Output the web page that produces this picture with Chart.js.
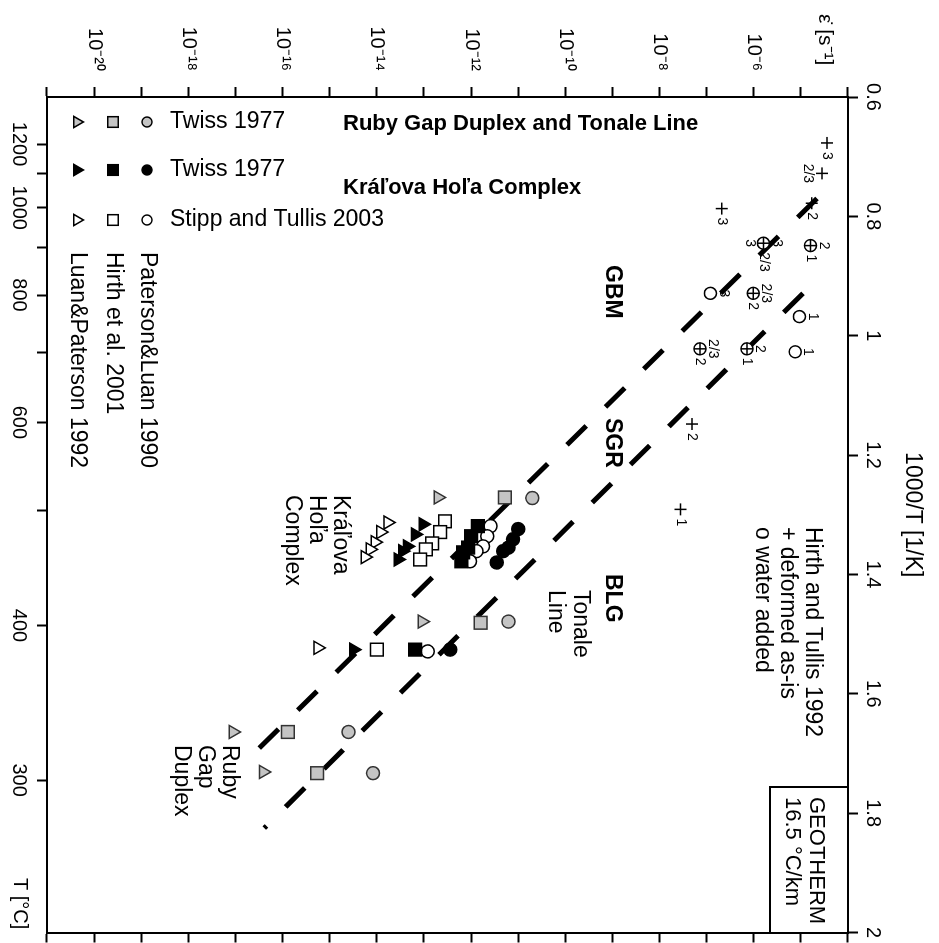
<!DOCTYPE html>
<html lang="en">
<head>
<meta charset="UTF-8">
<title>Strain rate vs 1000/T</title>
<script src="https://cdn.jsdelivr.net/npm/chart.js@4.4.0/dist/chart.umd.min.js"></script>
<style>
  body { margin: 0; background: #fff; overflow: hidden; }
  /* the figure is printed turned a quarter turn clockwise */
  #wrap { position: absolute; left: 0; top: 0; width: 943px; height: 939px;
          transform-origin: 0 0; transform: translateX(939px) rotate(90deg); }
</style>
</head>
<body>
<div id="wrap"><canvas id="chart" width="943" height="939"></canvas></div>
<script>
// axes
const invTTicks = [0.6, 0.8, 1, 1.2, 1.4, 1.6, 1.8, 2];
const tempTicks = [1200, 1100, 1000, 900, 800, 700, 600, 500, 400, 300];
const tempLabels = [1200, 1000, 800, 600, 400, 300];
const rateTickExp = [-21, -20, -19, -18, -17, -16, -15, -14, -13, -12, -11, -10, -9, -8, -7, -6, -5, -4];
const rateLabelExp = [-20, -18, -16, -14, -12, -10, -8, -6];

// Kráľova Hoľa Complex, Twiss 1977 (filled)
const khTriT = [1.316, 1.333, 1.353, 1.361, 1.375, 1.526];
const khTriRate = [9.5e-14, 6.5e-14, 4.4e-14, 3.5e-14, 2.8e-14, 3.2e-15];
const khSqT = [1.319, 1.336, 1.355, 1.363, 1.378, 1.526];
const khSqRate = [1.4e-12, 1.0e-12, 8.7e-13, 6.8e-13, 6.2e-13, 6.5e-14];
const khCirT = [1.324, 1.341, 1.355, 1.361, 1.380, 1.526];
const khCirRate = [1.0e-11, 7.8e-12, 6.2e-12, 4.8e-12, 3.5e-12, 3.6e-13];

// Stipp and Tullis 2003 (open)
const stTriT = [1.313, 1.329, 1.346, 1.358, 1.371, 1.523];
const stTriRate = [1.7e-14, 1.2e-14, 9.1e-15, 7.2e-15, 5.6e-15, 5.6e-16];
const stSqT = [1.311, 1.329, 1.348, 1.358, 1.375, 1.526];
const stSqRate = [2.8e-13, 2.2e-13, 1.5e-13, 1.1e-13, 8.3e-14, 1.0e-14];
const stCirT = [1.319, 1.336, 1.353, 1.361, 1.378, 1.529];
const stCirRate = [2.6e-12, 2.2e-12, 1.8e-12, 1.3e-12, 9.5e-13, 1.2e-13];

// Ruby Gap Duplex and Tonale Line, Twiss 1977 (grey)
const rgTriT = [1.271, 1.479, 1.664, 1.731];
const rgTriRate = [2.0e-13, 9.1e-14, 8.9e-18, 3.9e-17];
const rgSqT = [1.271, 1.481, 1.664, 1.733];
const rgSqRate = [5.2e-12, 1.6e-12, 1.3e-16, 5.4e-16];
const rgCirT = [1.272, 1.479, 1.664, 1.733];
const rgCirRate = [2.0e-11, 6.2e-12, 2.5e-15, 8.3e-15];

// Hirth and Tullis 1992 experiments, numbers = regime
const htPlusT = [0.677, 0.728, 0.778, 0.787, 1.148, 1.291];
const htPlusRate = [3.6e-5, 2.8e-5, 1.7e-5, 2.1e-7, 4.9e-8, 2.8e-8];
const htPlusNote = ['3', '2/3', '2', '3', '2', '1'];
const htBothT = [0.849, 0.845, 0.929, 1.022, 1.022];
const htBothRate = [1.6e-5, 1.6e-6, 9.8e-7, 7.2e-7, 7.2e-8];
const htBothNoteTop = ['2', '3', '2/3', '2', '2/3'];
const htBothNoteSide = ['1', '2/3', '2', '1', '2'];
const htWetT = [0.929, 0.968, 1.027];
const htWetRate = [1.2e-7, 9.3e-6, 7.6e-6];
const htWetNote = ['3', '1', '1'];

// regime boundaries
const gbmSgrT = [1.691, 0.748];
const gbmSgrRate = [3.2e-17, 4.2e-5];
const sgrBlgT = [1.825, 0.909];
const sgrBlgRate = [4.1e-17, 2.0e-5];

const FONT = '"Liberation Sans", Arial, sans-serif';
const H = 939;
const SUP = {'-': '⁻', '0': '⁰', '1': '¹', '2': '²', '3': '³', '4': '⁴', '5': '⁵', '6': '⁶', '7': '⁷', '8': '⁸', '9': '⁹'};

function pts(xs, ys) { return xs.map((x, i) => ({x: x, y: ys[i]})); }

function marks(xs, ys, style, r, fill, stroke) {
    return { data: pts(xs, ys), pointStyle: style, pointRadius: r, pointHoverRadius: r,
             backgroundColor: fill, borderColor: stroke, borderWidth: 1.5, showLine: false };
}

// text reading top to bottom on the page (page coords X right, Y down)
function vText(ctx, s, X, Y, font, align) {
    ctx.font = font; ctx.textAlign = align || 'left'; ctx.textBaseline = 'middle';
    ctx.fillText(s, Y, H - X);
}
// text reading left to right on the page
function hText(ctx, s, X, Y, font) {
    ctx.save();
    ctx.translate(Y, H - X);
    ctx.rotate(-Math.PI / 2);
    ctx.font = font; ctx.textAlign = 'left'; ctx.textBaseline = 'middle';
    ctx.fillText(s, 0, 0);
    ctx.restore();
}
function legendMark(ctx, style, r, fill, X, Y) {
    ctx.fillStyle = fill; ctx.strokeStyle = '#000'; ctx.lineWidth = 1.5;
    Chart.helpers.drawPoint(ctx, {pointStyle: style, radius: r, rotation: 0, borderWidth: 1.5}, Y, H - X);
}

const notes = {
    id: 'notes',
    afterDraw(chart) {
        const ctx = chart.ctx;
        const xs = chart.scales.x, ys = chart.scales.y;
        const ca = chart.chartArea;
        const reg = '23px ' + FONT, bold = 'bold 23px ' + FONT;
        ctx.save();
        ctx.fillStyle = '#000';

        vText(ctx, 'ε̇ [s⁻¹]', 825, 14, '21px ' + FONT);
        vText(ctx, 'T [°C]', 20, 878, '20px ' + FONT);

        // regimes
        vText(ctx, 'GBM', 612, 265, bold);
        vText(ctx, 'SGR', 612, 418, bold);
        vText(ctx, 'BLG', 612, 574, bold);

        // localities
        vText(ctx, 'Tonale', 580, 590, reg);
        vText(ctx, 'Line', 555, 590, reg);
        vText(ctx, 'Kráľova', 340, 495, reg);
        vText(ctx, 'Hoľa', 316, 495, reg);
        vText(ctx, 'Complex', 292, 495, reg);
        vText(ctx, 'Ruby', 229, 745, reg);
        vText(ctx, 'Gap', 205, 745, reg);
        vText(ctx, 'Duplex', 181, 745, reg);

        // flow laws
        vText(ctx, 'Paterson&Luan 1990', 147, 252, reg);
        vText(ctx, 'Hirth et al. 2001', 113, 252, reg);
        vText(ctx, 'Luan&Paterson 1992', 77, 252, reg);

        // Hirth and Tullis key
        vText(ctx, 'Hirth and Tullis 1992', 812, 527, reg);
        vText(ctx, '+ deformed as-is', 787, 527, reg);
        vText(ctx, 'o water added', 762, 527, reg);

        // geotherm box
        ctx.strokeStyle = '#000'; ctx.lineWidth = 2;
        ctx.beginPath();
        ctx.moveTo(787, ca.top); ctx.lineTo(787, H - 770); ctx.lineTo(ca.right, H - 770);
        ctx.stroke();
        vText(ctx, 'GEOTHERM', 816, 797, '22px ' + FONT);
        vText(ctx, '16.5 °C/km', 792, 797, '22px ' + FONT);

        // legend
        const rows = [
            {Y: 122, fill: '#c4c4c4', text: 'Twiss 1977'},
            {Y: 170, fill: '#000', text: 'Twiss 1977'},
            {Y: 220, fill: '#fff', text: 'Stipp and Tullis 2003'}
        ];
        rows.forEach(rw => {
            legendMark(ctx, 'triangle', 6.5, rw.fill, 77, rw.Y);
            legendMark(ctx, 'rect', 7.5, rw.fill, 113, rw.Y);
            legendMark(ctx, 'circle', 5, rw.fill, 147, rw.Y);
            ctx.fillStyle = '#000';
            hText(ctx, rw.text, 170, rw.Y, reg);
        });
        hText(ctx, 'Ruby Gap Duplex and Tonale Line', 343, 124, 'bold 22px ' + FONT);
        hText(ctx, 'Kráľova Hoľa Complex', 343, 188, 'bold 22px ' + FONT);

        // experiment numbers
        const small = '14px ' + FONT;
        ctx.font = small; ctx.textBaseline = 'middle';
        function note(s, t, r, where) {
            const px = xs.getPixelForValue(t), py = ys.getPixelForValue(r);
            if (where === 'side') { ctx.textAlign = 'left'; ctx.fillText(s, px + 9, py); }
            if (where === 'top') { ctx.textAlign = 'center'; ctx.fillText(s, px, py - 13); }
            if (where === 'under') { ctx.textAlign = 'center'; ctx.fillText(s, px, py + 14); }
        }
        htPlusNote.forEach((s, i) => note(s, htPlusT[i], htPlusRate[i], i === 1 ? 'under' : 'side'));
        htBothNoteTop.forEach((s, i) => note(s, htBothT[i], htBothRate[i], 'top'));
        htBothNoteSide.forEach((s, i) => note(s, htBothT[i], htBothRate[i], 'side'));
        note('3', htBothT[1], htBothRate[1], 'under');
        htWetNote.forEach((s, i) => note(s, htWetT[i], htWetRate[i], 'top'));
        ctx.restore();
    }
};

function axisGrid() {
    return { drawOnChartArea: false, drawTicks: true, tickLength: 10, tickWidth: 2, tickColor: '#000' };
}

Chart.defaults.font.family = FONT;
Chart.defaults.color = '#000';

const ctx = document.getElementById('chart').getContext('2d');
new Chart(ctx, {
    type: 'scatter',
    data: {
        datasets: [
            marks(htPlusT, htPlusRate, 'cross', 6, '#000', '#000'),
            marks(htBothT, htBothRate, 'cross', 6, '#000', '#000'),
            marks(htBothT, htBothRate, 'circle', 6, '#fff', '#000'),
            marks(htWetT, htWetRate, 'circle', 6, '#fff', '#000'),
            marks(khTriT, khTriRate, 'triangle', 7.5, '#000', '#000'),
            marks(khSqT, khSqRate, 'rect', 9, '#000', '#000'),
            marks(khCirT, khCirRate, 'circle', 6.5, '#000', '#000'),
            marks(stTriT, stTriRate, 'triangle', 7.5, '#fff', '#000'),
            marks(stSqT, stSqRate, 'rect', 9, '#fff', '#000'),
            marks(stCirT, stCirRate, 'circle', 6.5, '#fff', '#000'),
            marks(rgTriT, rgTriRate, 'triangle', 7.5, '#c4c4c4', '#333'),
            marks(rgSqT, rgSqRate, 'rect', 9, '#c4c4c4', '#333'),
            marks(rgCirT, rgCirRate, 'circle', 6.5, '#c4c4c4', '#333'),
            { data: pts(gbmSgrT, gbmSgrRate), showLine: true, pointRadius: 0, borderColor: '#000',
              borderWidth: 5, borderDash: [27, 27], borderCapStyle: 'butt' },
            { data: pts(sgrBlgT, sgrBlgRate), showLine: true, pointRadius: 0, borderColor: '#000',
              borderWidth: 5, borderDash: [27, 27], borderDashOffset: 24, borderCapStyle: 'butt' }
        ]
    },
    options: {
        responsive: false,
        animation: false,
        layout: { padding: 0 },
        plugins: { legend: { display: false }, tooltip: { enabled: false } },
        scales: {
            x: {
                type: 'linear', position: 'top', min: 0.6, max: 2,
                afterBuildTicks: s => { s.ticks = invTTicks.map(v => ({value: v})); },
                afterFit: s => { s.height = 91; },
                ticks: { font: { size: 20 }, padding: 3, maxRotation: 0, autoSkip: false,
                         callback: v => String(+v.toFixed(1)) },
                grid: axisGrid(),
                border: { color: '#000', width: 2 },
                title: { display: true, text: '1000/T [1/K]', font: { size: 23 }, padding: { top: 13, bottom: 0 } }
            },
            x2: {
                type: 'linear', position: 'bottom', min: 0.6, max: 2,
                afterBuildTicks: s => { s.ticks = tempTicks.map(t => ({value: 1000 / (t + 273.15)})); },
                afterFit: s => { s.height = 47; },
                ticks: { font: { size: 20 }, padding: 6, maxRotation: 0, autoSkip: false,
                         callback: (v, i) => tempLabels.includes(tempTicks[i]) ? String(tempTicks[i]) : '' },
                grid: axisGrid(),
                border: { color: '#000', width: 2 }
            },
            y: {
                type: 'logarithmic', position: 'left', min: 1e-21, max: 1e-4,
                afterBuildTicks: s => { s.ticks = rateTickExp.map(e => ({value: Math.pow(10, e)})); },
                afterFit: s => { s.width = 97; },
                ticks: { font: { size: 20 }, padding: 16, autoSkip: false,
                         callback: v => {
                             const e = Math.round(Math.log10(v));
                             if (!rateLabelExp.includes(e)) return '';
                             return '10' + String(e).split('').map(c => SUP[c]).join('');
                         } },
                grid: axisGrid(),
                border: { color: '#000', width: 2 }
            },
            y2: {
                type: 'logarithmic', position: 'right', min: 1e-21, max: 1e-4,
                afterBuildTicks: s => { s.ticks = rateTickExp.map(e => ({value: Math.pow(10, e)})); },
                afterFit: s => { s.width = 10; },
                ticks: { display: false },
                grid: axisGrid(),
                border: { color: '#000', width: 2 }
            }
        }
    },
    plugins: [notes]
});
</script>
</body>
</html>
